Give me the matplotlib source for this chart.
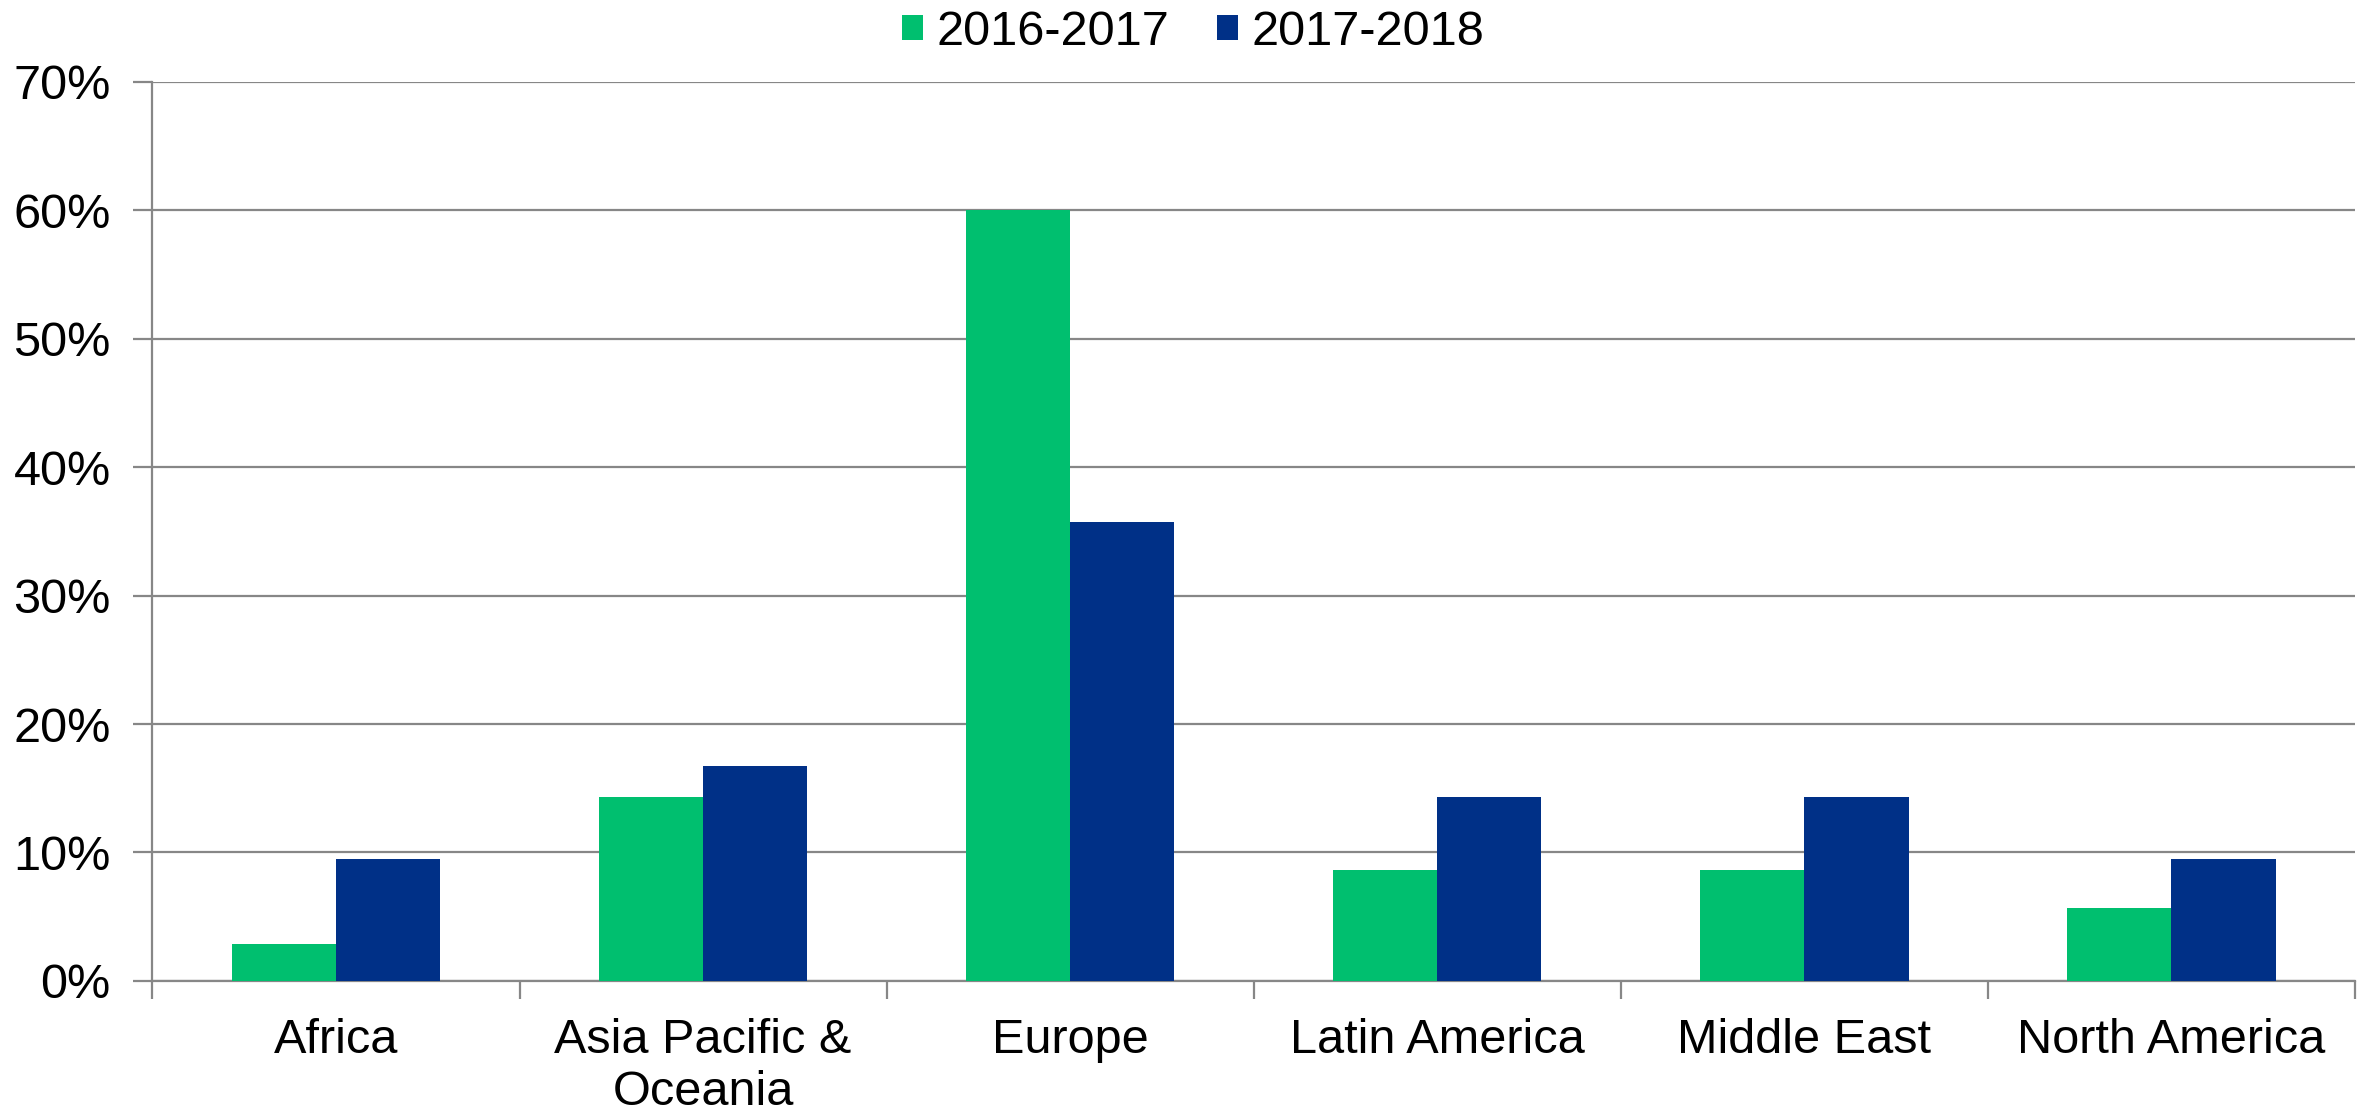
import numpy as np
import matplotlib
matplotlib.use("Agg")
import matplotlib.pyplot as plt
from matplotlib.ticker import FuncFormatter, FixedLocator

plt.rcParams['font.family'] = ['Liberation Sans', 'DejaVu Sans']

# ---- data (share of total, %)
regions = ["Africa", "Asia Pacific &\nOceania", "Europe", "Latin America",
           "Middle East", "North America"]
series_names = ["2016-2017", "2017-2018"]
share_2016_2017 = [2.9, 14.3, 60.0, 8.6, 8.6, 5.7]
share_2017_2018 = [9.5, 16.7, 35.7, 14.3, 14.3, 9.5]
colors = ["#00BF6F", "#003087"]
yticks = [0, 10, 20, 30, 40, 50, 60, 70]

fs = 35

fig = plt.figure(figsize=(23.67, 11.14), dpi=100)
ax = fig.add_axes([0.0644, 0.1194, 0.9305, 0.8074])

x = np.arange(len(regions))
w = 0.284
ax.bar(x - w / 2, share_2016_2017, w, color=colors[0], label=series_names[0], zorder=3)
ax.bar(x + w / 2, share_2017_2018, w, color=colors[1], label=series_names[1], zorder=3)

ax.set_xlim(-0.5, len(regions) - 0.5)
ax.set_ylim(0, 70)
ax.set_yticks(yticks)
ax.yaxis.set_major_formatter(FuncFormatter(lambda v, p: f"{v:.0f}%"))
ax.grid(axis='y', color='#878787', linewidth=1.6, zorder=0)

# ---- category labels centered, tick marks at category boundaries
ax.set_xticks(x)
ax.set_xticklabels(regions, fontsize=fs, linespacing=1.2)
ax.tick_params(axis='x', which='major', length=0, pad=27)
ax.xaxis.set_minor_locator(FixedLocator(np.arange(-0.5, len(regions), 1.0)))
ax.tick_params(axis='x', which='minor', length=13, width=1.6, color='#878787')
ax.tick_params(axis='y', labelsize=fs, length=14, width=1.6, color='#878787', pad=16)

for side in ['top', 'right']:
    ax.spines[side].set_visible(False)
for side in ['left', 'bottom']:
    ax.spines[side].set_color('#878787')
    ax.spines[side].set_linewidth(1.6)

fig.legend(loc='center', bbox_to_anchor=(0.504, 0.971), ncol=2, frameon=False,
           fontsize=fs, handlelength=0.44, handleheight=0.44, handletextpad=0.27,
           columnspacing=0.98, borderpad=0)

fig.savefig("out.png", dpi=100)
